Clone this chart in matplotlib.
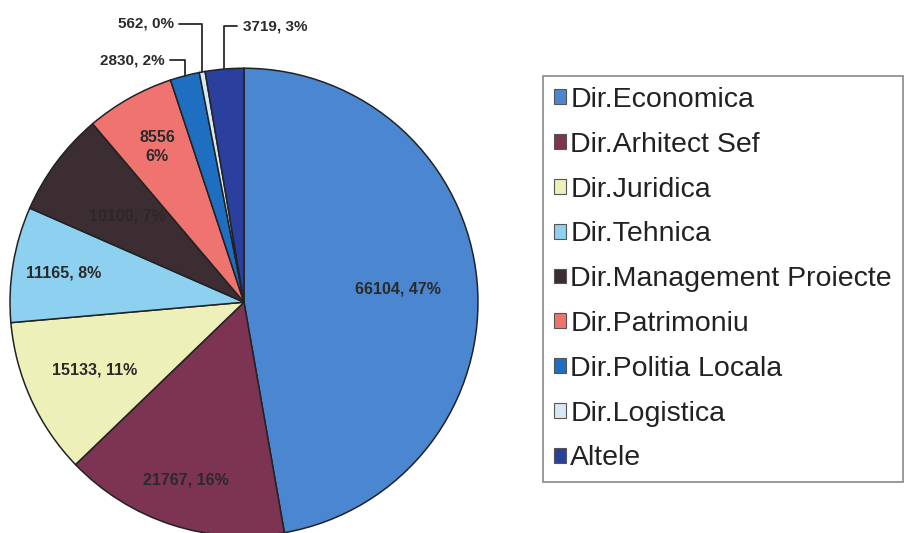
import numpy as np
import matplotlib.pyplot as plt
from matplotlib.patches import Patch

# number of documents per directorate
departments = ['Dir.Economica', 'Dir.Arhitect Sef', 'Dir.Juridica', 'Dir.Tehnica',
               'Dir.Management Proiecte', 'Dir.Patrimoniu', 'Dir.Politia Locala',
               'Dir.Logistica', 'Altele']
counts = [66104, 21767, 15133, 11165, 10100, 8556, 2830, 562, 3719]

colors = ['#4a87d0', '#7c3452', '#eef0b9', '#8dd0ef', '#3b2d31',
          '#ef7470', '#1e6fc2', '#d6e8f2', '#2b3f9f']

# label radius (fraction of pie radius) for labels placed inside the slices
inner_r = [0.66, 0.80, 0.70, 0.78, 0.62, 0.76]
# outside labels for the thin slices: (x, y, ha)
outer_pos = {6: (-0.34, 1.035, 'right'),
             7: (-0.30, 1.19, 'right'),
             8: (-0.005, 1.18, 'left')}

plt.rcParams['font.family'] = ['Liberation Sans', 'DejaVu Sans']

fig = plt.figure(figsize=(9.07, 5.33), dpi=100)
ax = fig.add_axes([0.011, -0.006, 0.516, 0.878])

wedges, _ = ax.pie(counts, colors=colors, startangle=90, counterclock=False,
                   radius=1.0, wedgeprops=dict(edgecolor='#222222', linewidth=1.1))
ax.set_xlim(-1, 1)
ax.set_ylim(-1, 1)
ax.set_aspect('equal')
ax.axis('off')

total = sum(counts)
for i, (w, v) in enumerate(zip(wedges, counts)):
    pct = v / total * 100
    mid = np.deg2rad((w.theta1 + w.theta2) / 2)
    if i in outer_pos:
        tx, ty, ha = outer_pos[i]
        ax.annotate(f'{v}, {pct:.0f}%', xy=(np.cos(mid), np.sin(mid)),
                    xytext=(tx, ty), ha=ha, va='center', fontsize=11,
                    fontweight='bold', color='#2a2a2a',
                    arrowprops=dict(arrowstyle='-', color='#2a2a2a', lw=1.3,
                                    shrinkA=2, shrinkB=0,
                                    connectionstyle='angle,angleA=0,angleB=90,rad=0'))
    else:
        r = inner_r[i]
        txt = f'{v}\n{pct:.0f}%' if i == 5 else f'{v}, {pct:.0f}%'
        # the label on the dark slice is printed in a near-matching dark tone
        tc = '#30262a' if i == 4 else '#2a2a2a'
        ax.text(r * np.cos(mid), r * np.sin(mid), txt, ha='center', va='center',
                fontsize=11.5, fontweight='bold', color=tc, linespacing=1.3)

handles = [Patch(facecolor=c, edgecolor='#555555', linewidth=0.8) for c in colors]
leg = fig.legend(handles, departments, loc='upper left',
                 bbox_to_anchor=(0.599, 0.857), bbox_transform=fig.transFigure,
                 fontsize=20.5, frameon=True, fancybox=False, labelspacing=0.66,
                 handlelength=0.42, handleheight=0.42, handletextpad=0.15,
                 borderpad=0.38, borderaxespad=0)
leg.get_frame().set_edgecolor('#777777')
leg.get_frame().set_linewidth(1.3)
for t in leg.get_texts():
    t.set_color('#222222')

fig.savefig('out.png', dpi=100)
